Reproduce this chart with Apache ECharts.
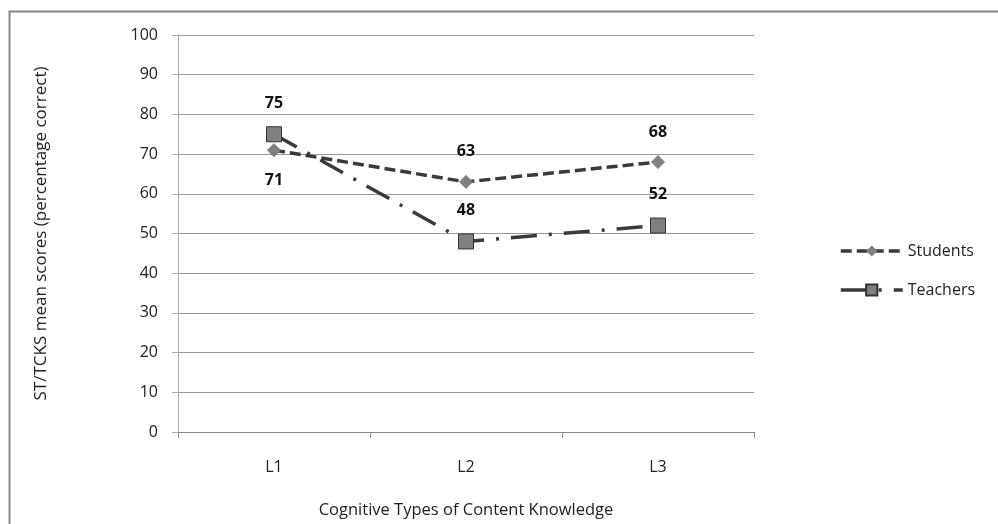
<!DOCTYPE html>
<html><head><meta charset="utf-8">
<script src="https://cdn.jsdelivr.net/npm/echarts@6/dist/echarts.min.js"></script>
<style>html,body{margin:0;padding:0;background:#fff}#c{width:998px;height:524px}</style>
</head><body><div id="c"></div>
<script>
const categories = ['L1', 'L2', 'L3'];
const students = [71, 63, 68];
const teachers = [75, 48, 52];
const yTicks = [0, 10, 20, 30, 40, 50, 60, 70, 80, 90, 100];

const FONT = '"Open Sans", "Noto Sans", sans-serif';
const chart = echarts.init(document.getElementById('c'));
chart.setOption({
  animation: false,
  backgroundColor: '#fff',
  graphic: [{
    type: 'rect', left: 7, top: 9, shape: { width: 990, height: 530 },
    style: { fill: 'none', stroke: '#888', lineWidth: 2 }, silent: true, z: -1
  }],
  grid: { left: 178, right: 244, top: 35, bottom: 92 },
  legend: {
    orient: 'vertical', left: 834, top: 238, itemGap: 23,
    itemWidth: 62, itemHeight: 14,
    lineStyle: { width: 3.5 },
    textStyle: { fontFamily: FONT, fontSize: 16, color: '#222' },
    data: ['Students', 'Teachers']
  },
  xAxis: {
    type: 'category', data: categories, boundaryGap: true,
    name: 'Cognitive Types of Content Knowledge', nameLocation: 'middle', nameGap: 70,
    nameTextStyle: { fontFamily: FONT, fontSize: 16.5, color: '#222' },
    axisLine: { lineStyle: { color: '#888', width: 1 } },
    axisTick: { show: true, length: 6, inside: false, lineStyle: { color: '#888' } },
    axisLabel: { fontFamily: FONT, fontSize: 16, color: '#222', margin: 27 }
  },
  yAxis: {
    type: 'value', min: yTicks[0], max: yTicks[yTicks.length - 1], interval: 10,
    name: 'ST/TCKS mean scores (percentage correct)', nameLocation: 'middle', nameGap: 128,
    nameTextStyle: { fontFamily: FONT, fontSize: 17, color: '#222' },
    axisLine: { show: true, lineStyle: { color: '#aaa', width: 1 } },
    axisTick: { show: true, length: 6, lineStyle: { color: '#aaa' } },
    axisLabel: { fontFamily: FONT, fontSize: 16, color: '#222', margin: 20 },
    splitLine: { show: true, lineStyle: { color: '#999', width: 1 } }
  },
  series: [
    {
      name: 'Students', type: 'line',
      symbol: 'diamond', symbolSize: 13,
      itemStyle: { color: '#808080', borderColor: '#808080' },
      lineStyle: { color: '#3a3a3a', width: 3.5, type: [11, 5] },
      label: {
        show: true, fontFamily: FONT, fontWeight: 'bold', fontSize: 16, color: '#111',
        position: 'top', distance: 15
      },
      data: students.map((v, i) => i === 0 ? { value: v, label: { position: 'bottom', distance: 15 } } : v),
      z: 3
    },
    {
      name: 'Teachers', type: 'line', data: teachers,
      symbol: 'rect', symbolSize: 15,
      itemStyle: { color: '#808080', borderColor: '#333', borderWidth: 1 },
      lineStyle: { color: '#3a3a3a', width: 3.5, type: [26, 12, 3, 12] },
      label: {
        show: true, fontFamily: FONT, fontWeight: 'bold', fontSize: 16, color: '#111',
        position: 'top', distance: 15
      },
      z: 4
    }
  ]
});
</script></body></html>
